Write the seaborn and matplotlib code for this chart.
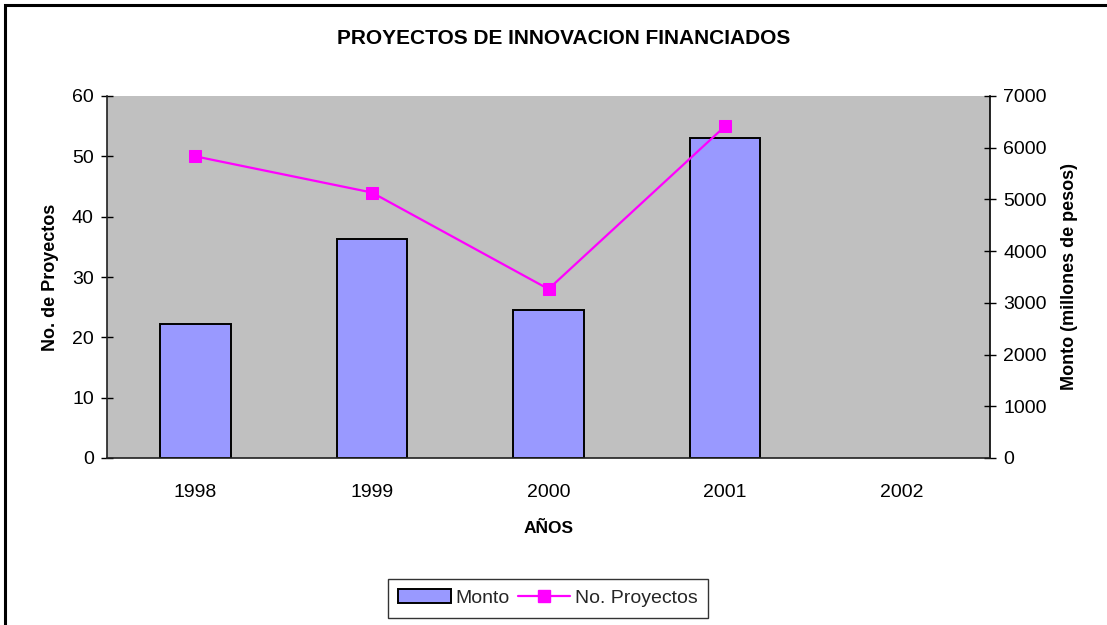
import numpy as np
import pandas as pd
import matplotlib
matplotlib.use("Agg")
import matplotlib.pyplot as plt
import seaborn as sns
from matplotlib.patches import Rectangle
from matplotlib.lines import Line2D
from matplotlib.patches import Patch

# Datos
anios = ["1998", "1999", "2000", "2001", "2002"]
monto = [2600, 4240, 2860, 6180, np.nan]      # millones de pesos (eje derecho)
proyectos = [50, 44, 28, 55, np.nan]          # numero de proyectos (eje izquierdo)

df = pd.DataFrame({"anio": anios, "monto": monto, "proyectos": proyectos})

sns.set_theme(style="white")
plt.rcParams["font.family"] = ["Liberation Sans", "DejaVu Sans"]

fig = plt.figure(figsize=(11.07, 6.25), dpi=100)
ax = fig.add_axes([107 / 1107, 167 / 625, 883 / 1107, 362 / 625])
ax2 = ax.twinx()

# barras de monto en el eje derecho
sns.barplot(data=df, x="anio", y="monto", order=anios, ax=ax2,
            color="#9999ff", saturation=1, width=0.4,
            edgecolor="black", linewidth=1.4, errorbar=None)

# linea de proyectos en el eje izquierdo
pos = np.arange(len(anios))
sns.lineplot(x=pos, y=proyectos, ax=ax, color="#ff00ff", marker="s",
             markersize=9, markeredgecolor="#ff00ff", linewidth=1.6)

# orden de dibujo: la linea encima de las barras
ax.set_zorder(ax2.get_zorder() + 1)
ax.patch.set_visible(False)
ax2.patch.set_visible(True)
ax2.set_facecolor("#c0c0c0")

ax.set_ylim(0, 60)
ax.set_yticks(range(0, 61, 10))
ax2.set_ylim(0, 7000)
ax2.set_yticks(range(0, 7001, 1000))
ax.set_xlim(-0.5, len(anios) - 0.5)

# ticks del eje x entre categorias, etiquetas al centro
ax.set_xticks(np.arange(-0.5, len(anios), 1))
ax.set_xticklabels([])
ax.set_xticks(pos, minor=True)
ax.set_xticklabels(anios, minor=True)
ax.tick_params(axis="x", which="major", direction="inout", length=9, width=1, color="black")
ax.tick_params(axis="x", which="minor", length=0, labelsize=14, pad=19, labelcolor="black")
ax.tick_params(axis="y", direction="inout", length=9, width=1, color="black",
               labelsize=14, pad=5, labelcolor="black", left=True)
ax2.tick_params(axis="y", direction="inout", length=9, width=1, color="black",
                labelsize=14, pad=5, labelcolor="black", right=True)

for s in ["top", "right"]:
    ax.spines[s].set_visible(False)
for s in ["left", "bottom"]:
    ax.spines[s].set_color("#202020")
    ax.spines[s].set_linewidth(1.2)
for s in ["top", "left", "bottom"]:
    ax2.spines[s].set_visible(False)
ax2.spines["right"].set_color("black")
ax2.spines["right"].set_linewidth(1.2)

ax.set_ylabel("No. de Proyectos", fontsize=13, fontweight="bold", labelpad=9, color="black")
ax2.set_ylabel("Monto (millones de pesos)", fontsize=13, fontweight="bold", labelpad=10, color="black")
ax.set_xlabel("AÑOS", fontsize=12.5, fontweight="bold", labelpad=14, color="black")
ax2.set_xlabel("")

fig.text(564 / 1107, 1 - 39 / 625, "PROYECTOS DE INNOVACION FINANCIADOS",
         ha="center", va="center", fontsize=15, fontweight="bold", color="black")

handles = [Patch(facecolor="#9999ff", edgecolor="black", linewidth=1.4),
           Line2D([], [], color="#ff00ff", marker="s", markersize=9, linewidth=1.6)]
leg = fig.legend(handles, ["Monto", "No. Proyectos"], loc="center",
                 bbox_to_anchor=(548 / 1107, 1 - 598 / 625), ncol=2,
                 frameon=True, fancybox=False, fontsize=14, handlelength=2.7,
                 handletextpad=0.25, columnspacing=0.4, borderpad=0.55,
                 borderaxespad=0.2)
leg.get_frame().set_edgecolor("black")
leg.get_frame().set_linewidth(1.0)

# marco exterior del grafico
fig.patches.append(Rectangle((5 / 1107, -0.1), 1.2, 1.1 - 5.5 / 625, transform=fig.transFigure,
                             fill=False, edgecolor="black", linewidth=2.2, zorder=10))

fig.savefig("out.png", dpi=100, facecolor="white")
